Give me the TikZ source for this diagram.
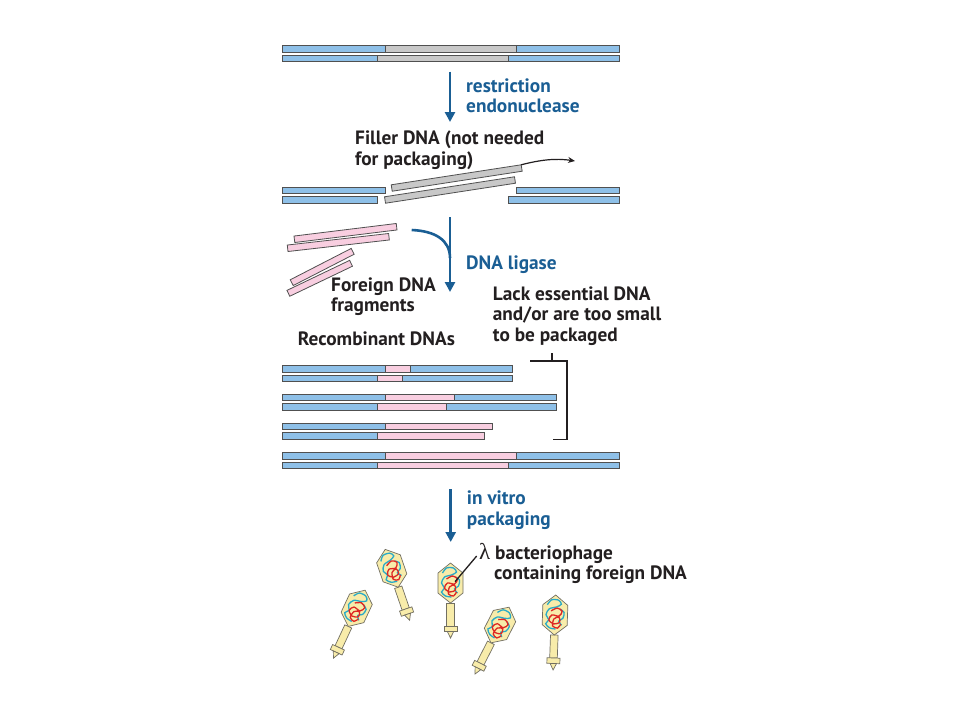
\documentclass[tikz,border=0pt]{standalone}
\usepackage{fontspec}
\setmainfont{PT Sans}
\newfontfamily\greekserif{Liberation Serif}
\usetikzlibrary{arrows.meta}
\definecolor{dnablue}{RGB}{142,192,232}
\definecolor{dnagrey}{RGB}{200,200,200}
\definecolor{dnapink}{RGB}{248,206,224}
\definecolor{edge}{RGB}{80,80,80}
\definecolor{stepblue}{RGB}{26,94,148}
\definecolor{ink}{RGB}{35,31,32}
\definecolor{headfill}{RGB}{248,236,170}
\definecolor{loopred}{RGB}{222,40,36}
\definecolor{loopcyan}{RGB}{40,170,200}
\tikzset{
  strand/.style={draw=edge, line width=0.8pt},
  piece/.style={strand, inner sep=0pt, outer sep=0pt, minimum height=6.5pt},
  steparrow/.style={draw=stepblue, line width=2.6pt, -{Triangle[width=10pt,length=10pt]}},
  stepcurve/.style={draw=stepblue, line width=2.6pt},
  steptext/.style={text=stepblue, font=\bfseries\fontsize{19.3}{20.5}\selectfont, align=left, anchor=base west, inner sep=0pt},
  notetext/.style={text=ink, font=\bfseries\fontsize{19.3}{20.3}\selectfont, align=left, anchor=base west, inner sep=0pt},
  phageline/.style={draw=edge!80!headfill, line width=0.7pt, fill=headfill},
  phage/.pic={
    \draw[phageline] (-3.8,20) rectangle (3.8,43);
    \draw[phageline] (-6.5,43) rectangle (6.5,48.5);
    \draw[phageline] (-3.2,48.5) -- (3.2,48.5) -- (0,55) -- cycle;
    \draw[phageline] (0,-20) -- (12.5,-10) -- (12.5,10) -- (0,20) -- (-12.5,10) -- (-12.5,-10) -- cycle;
    \draw[loopcyan, line width=1.3pt] plot[smooth] coordinates {(-8,-10) (-4,-15) (3,-15) (6,-11) (1,-8) (-6,-6) (-9,0) (-6,5) (-9,9) (-5,13) (1,14)};
    \draw[loopcyan, line width=1.3pt] plot[smooth] coordinates {(5,-6) (9,-3) (8,3) (4,6) (7,10)};
    \draw[loopred, line width=1.3pt] plot[smooth] coordinates {(-4,-4) (2,-7) (7,-4) (4,1) (-3,0) (-6,5) (-1,9) (5,7) (4,2) (-1,4) (-2,11) (3,13) (6,9)};
  }
}
\begin{document}
\begin{tikzpicture}[x=1pt,y=-1pt]
  \useasboundingbox[fill=white] (0,0) rectangle (960,720);
  % vector and recombinant duplexes
  \foreach \ya/\xa/\xb/\c in {
      45.5/282.7/385/dnablue, 45.5/385/516.7/dnagrey, 45.5/516.7/619/dnablue,
      55/282.7/377/dnablue, 55/377/508.3/dnagrey, 55/508.3/619/dnablue,
      187/282.7/385/dnablue, 187/516.7/619/dnablue,
      196.5/282.7/377/dnablue, 196.5/508.3/619/dnablue,
      365.5/282.7/385/dnablue, 365.5/385/410.7/dnapink, 365.5/410.7/512.7/dnablue,
      375/282.7/377/dnablue, 375/377/402.7/dnapink, 375/402.7/512.7/dnablue,
      394/282.7/385/dnablue, 394/385/454/dnapink, 394/454/556/dnablue,
      403.5/282.7/377/dnablue, 403.5/377/446/dnapink, 403.5/446/556/dnablue,
      423/282.7/385/dnablue, 423/385/492.3/dnapink,
      432.5/282.7/377/dnablue, 432.5/377/484.3/dnapink,
      452.5/282.7/385/dnablue, 452.5/385/516.7/dnapink, 452.5/516.7/619/dnablue,
      462/282.7/377/dnablue, 462/377/508.3/dnapink, 462/508.3/619/dnablue}
    \draw[strand, fill=\c] (\xa,\ya) rectangle (\xb,\ya+6.5);
  % loose fragments
  \node[piece, fill=dnagrey, minimum width=131.5pt, rotate=8.75] (filler1) at (456.7,178) {};
  \node[piece, fill=dnagrey, minimum width=131.5pt, rotate=8.75] (filler2) at (450,190) {};
  \node[piece, fill=dnapink, minimum width=103pt, rotate=7] (frag1) at (345.5,233) {};
  \node[piece, fill=dnapink, minimum width=102pt, rotate=6.5] (frag2) at (338.3,242.5) {};
  \node[piece, fill=dnapink, minimum width=68.5pt, rotate=27.2] (frag3) at (322.2,267) {};
  \node[piece, fill=dnapink, minimum width=69.5pt, rotate=25.6] (frag4) at (319.7,278.3) {};
  % labels (anchored at the baseline of the last line)
  \node[steptext] (cut) at (466,112.7) {restriction\\endonuclease};
  \node[notetext] (filler) at (355,165) {Filler DNA (not needed\\for packaging)};
  \node[steptext] (ligase) at (466,269.3) {DNA ligase};
  \node[notetext] (foreign) at (331,311.7) {Foreign DNA\\fragments};
  \node[notetext] (recomb) at (297.7,345) {Recombinant DNAs};
  \node[notetext] (lack) at (492.7,341) {Lack essential DNA\\and/or are too small\\to be packaged};
  \node[steptext] (pack) at (466.7,525) {in vitro\\packaging};
  \node[notetext] (lambda) at (479,579.3) {{\greekserif\mdseries\fontsize{23}{20}\selectfont λ} bacteriophage\\\hspace*{15pt}containing foreign DNA};
  % arrows
  \coordinate (cut0) at (450,71.7);
  \coordinate (cut1) at (450,122);
  \coordinate (lig0) at (450,217);
  \coordinate (lig1) at (450,292);
  \coordinate (ligin) at (411.7,230);
  \coordinate (ligjoin) at (450,258);
  \coordinate (pack0) at (450.7,489);
  \coordinate (pack1) at (450.7,542);
  \coordinate (out1) at (575,161);
  \draw[steparrow] (cut0) -- (cut1);
  \draw[steparrow] (lig0) -- (lig1);
  \draw[stepcurve] (ligin) .. controls (435,231) and (450,240) .. (ligjoin);
  \draw[steparrow] (pack0) -- (pack1);
  \draw[ink, line width=1.2pt, -{Stealth[length=7pt,width=6pt]}] (filler1.north east) .. controls (540,160) and (555,158) .. (out1);
  % bracket
  \draw[ink, line width=1.6pt] (530,360.7) -| (566.7,439.3) -- (552.7,439.3);
  \draw[ink, line width=1.6pt] (551.7,360.7) -- (551.7,352.7);
  % phages
  \pic[rotate=-25] at (356.7,608.3) {phage};
  \pic[rotate=19] at (391.7,568.3) {phage};
  \pic at (450.5,583) {phage};
  \pic[rotate=-27] at (500,625) {phage};
  \pic[rotate=-2] at (555,615) {phage};
  \coordinate (lamtip) at (455,581.7);
  \draw[ink, line width=1.3pt] (476.7,556) -- (lamtip);
\end{tikzpicture}
\end{document}
